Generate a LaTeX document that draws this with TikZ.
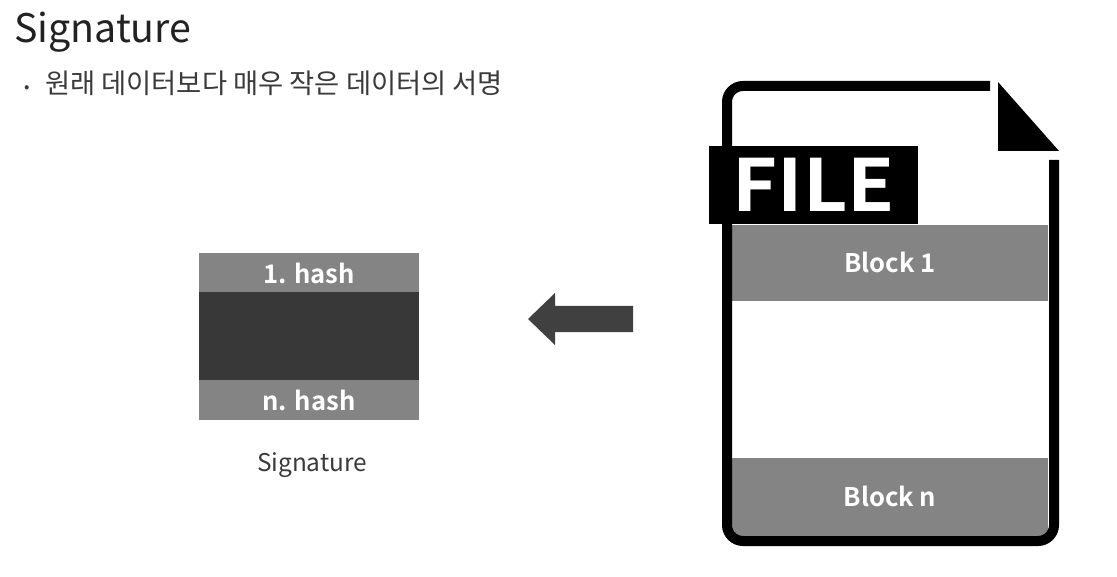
\documentclass[tikz,border=0pt]{standalone}
\usepackage{fontspec}
\setmainfont{Noto Sans CJK KR}
\newfontfamily\boldcjk{Noto Sans CJK KR Bold}
\definecolor{blockgray}{HTML}{848484}
\definecolor{darkband}{HTML}{383838}
\definecolor{arrowdark}{HTML}{404040}
\definecolor{titleink}{HTML}{222222}
\definecolor{bodyink}{HTML}{3A3A3A}
\tikzset{
  x=0.75pt,y=-0.75pt,
  txt/.style={inner sep=0pt,outer sep=0pt,anchor=base west},
  band/.style={fill=blockgray,draw=none},
  bandlabel/.style={inner sep=0pt,text=white,anchor=base,font=\boldcjk\fontsize{19.2}{23}\selectfont},
  outline/.style={line width=7.5pt,black,line cap=butt,rounded corners=16pt*0.75}
}
\begin{document}
\begin{tikzpicture}
\useasboundingbox (0,0) rectangle (1117,577);
\fill[white] (0,0) rectangle (1117,577);
% title
\node[txt,text=titleink,font=\fontsize{29.5}{34}\selectfont] (title) at (14,43) {Signature};
\node[txt,text=bodyink,font=\fontsize{12}{14}\selectfont] (bullet) at (24,93) {•};
\node[txt,text=bodyink,font=\fontsize{20.5}{24}\selectfont] (sub) at (45,94) {원래 데이터보다 매우 작은 데이터의 서명};
% signature box
\fill[band] (199,253) rectangle (419,292);
\fill[darkband] (199,292) rectangle (419,380);
\fill[band] (199,380) rectangle (419,420);
\node[bandlabel] (h1) at (309,283) {1. hash};
\node[bandlabel] (hn) at (309,410) {n. hash};
\node[anchor=base,inner sep=0pt,text=bodyink,font=\fontsize{18.3}{21}\selectfont] (siglabel) at (312,471) {Signature};
% arrow
\fill[arrowdark] (528,319) -- (555,293) -- (555,306) -- (633,306) -- (633,332) -- (555,332) -- (555,345) -- cycle;
% blocks
\fill[band] (732,225) rectangle (1048,301);
\fill[band] (732,458) rectangle (1048,536);
\node[bandlabel] (b1) at (890,273) {Block 1};
\node[bandlabel] (bn) at (890,506) {Block n};
% file outline
\draw[outline] (990,86) -- (727,86) -- (727,541) -- (1054,541) -- (1054,160);
\fill[black] (998,82) -- (1059,151) -- (998,151) -- cycle;
% FILE tag
\fill[black] (709,146) rectangle (918,224);
\node[anchor=base,inner sep=0pt,text=white,font=\boldcjk\fontsize{54}{60}\selectfont] (file) at (814,212) {\scalebox{1.07}[1]{FILE}};
\end{tikzpicture}
\end{document}
